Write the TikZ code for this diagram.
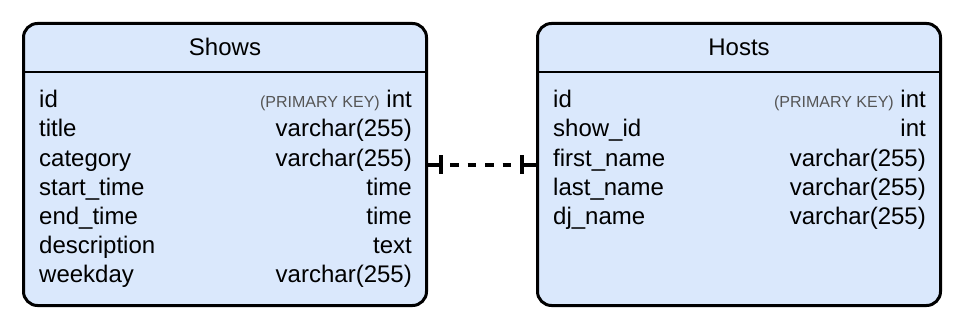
\documentclass[tikz,border=0pt]{standalone}
\usepackage{fontspec}
\setmainfont{Liberation Sans}
\definecolor{entityfill}{HTML}{DAE8FC}
\definecolor{keygray}{HTML}{555555}
\newcommand{\pktag}{{\fontsize{16}{19}\selectfont\color{keygray}(PRIMARY KEY)}}
\begin{document}
\begin{tikzpicture}[x=1pt,y=-1pt,
  entity/.style={draw, line width=3pt, fill=entityfill, rounded corners=14pt,
    minimum width=403pt, minimum height=282pt, inner sep=0pt},
  divider/.style={line width=2pt},
  title/.style={anchor=base, inner sep=0pt, font=\fontsize{24}{29}\selectfont},
  field/.style={anchor=base west, inner sep=0pt, font=\fontsize{24}{29}\selectfont},
  ftype/.style={anchor=base east, inner sep=0pt, font=\fontsize{24}{29}\selectfont},
  link/.style={line width=4pt},
  linkdash/.style={line width=4pt, dash pattern=on 8.5pt off 9pt, dash phase=8.5pt},
  bar/.style={line width=4.5pt}]
\useasboundingbox (0,0) rectangle (966,334);

% entity boxes
\node[entity] (shows) at (225,164.5) {};
\node[entity] (hosts) at (739,164.5) {};

% header dividers
\draw[divider] (shows.west |- 0,72) -- (shows.east |- 0,72);
\draw[divider] (hosts.west |- 0,72) -- (hosts.east |- 0,72);

% titles
\node[title] (shows-title) at (225,56) {Shows};
\node[title] (hosts-title) at (739,56) {Hosts};

% Shows columns
\foreach \f/\t [count=\i] in {
  id/{\pktag{} int},
  title/varchar(255),
  category/varchar(255),
  start\_time/time,
  end\_time/time,
  description/text,
  weekday/varchar(255)}{
  \node[field] (shows-f\i) at (39,79+29*\i) {\f};
  \node[ftype] (shows-t\i) at (412,79+29*\i) {\t};
}

% Hosts columns
\foreach \f/\t [count=\i] in {
  id/{\pktag{} int},
  show\_id/int,
  first\_name/varchar(255),
  last\_name/varchar(255),
  dj\_name/varchar(255)}{
  \node[field] (hosts-f\i) at (553,79+29*\i) {\f};
  \node[ftype] (hosts-t\i) at (926,79+29*\i) {\t};
}

% one-to-one relationship
\path (shows.east) ++(13,0) coordinate (rel-s);
\path (hosts.west) ++(-14,0) coordinate (rel-h);
\draw[link] (shows.east) -- (rel-s);
\draw[linkdash] (rel-s) -- (rel-h);
\draw[link] (rel-h) -- (hosts.west);
\draw[bar] (rel-s) ++(0,-9.5) -- ++(0,19);
\draw[bar] (rel-h) ++(0,-9.5) -- ++(0,19);
\end{tikzpicture}
\end{document}
